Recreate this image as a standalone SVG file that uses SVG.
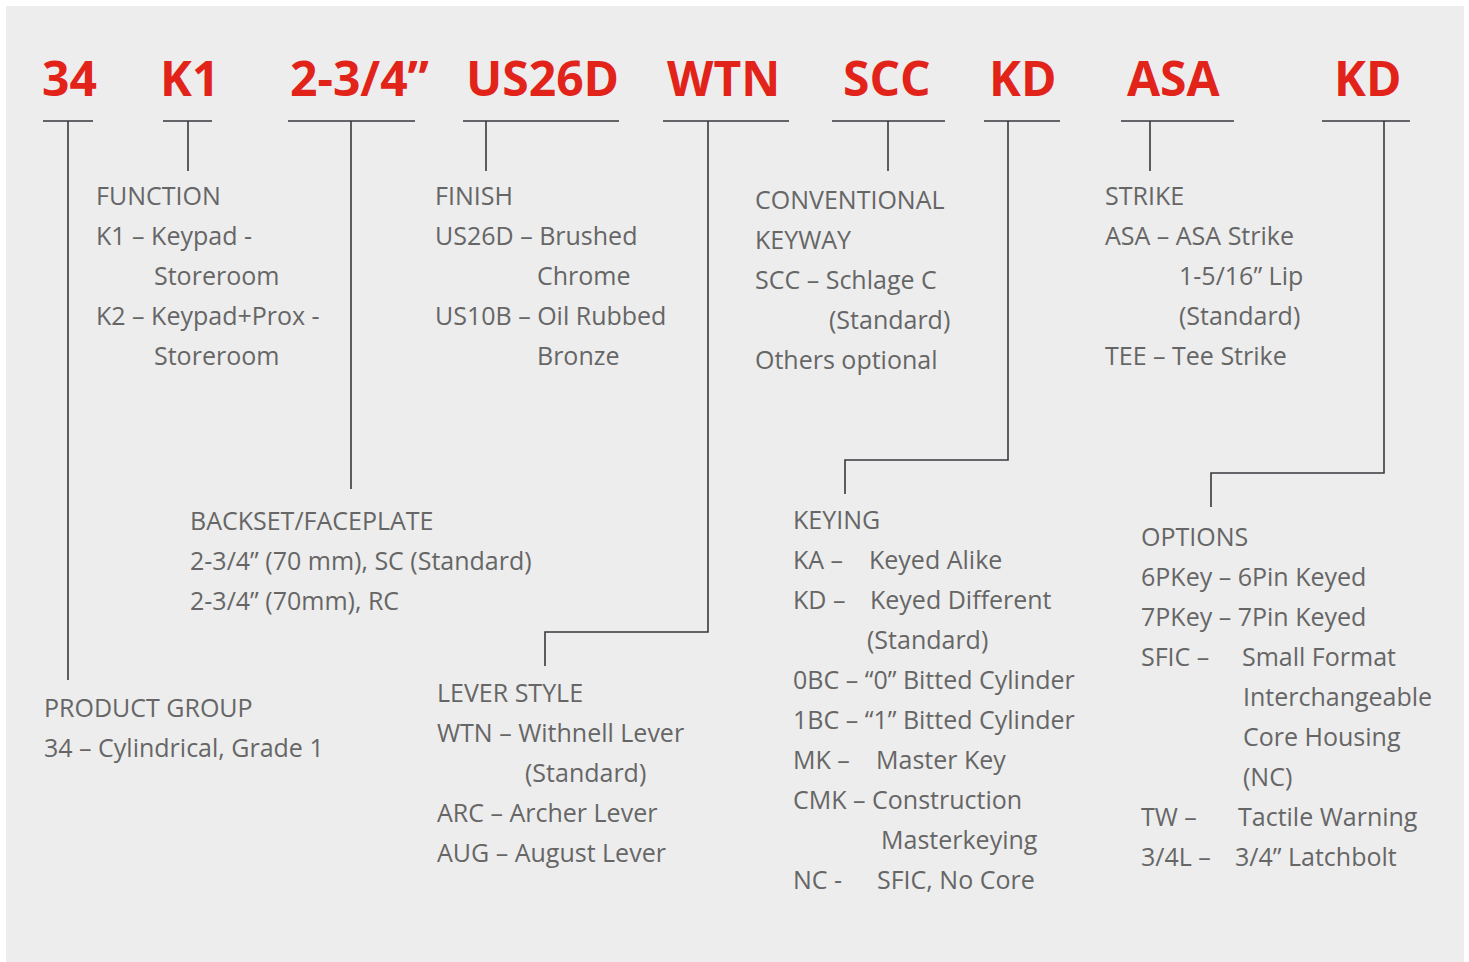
<svg xmlns="http://www.w3.org/2000/svg" width="1469" height="962" viewBox="0 0 1469 962">
<style>
.code{font-family:"Open Sans","Noto Sans",sans-serif;font-weight:700;font-size:48px;fill:#e2231a}
.t{font-family:"Open Sans","Noto Sans",sans-serif;font-size:25px;fill:#666666}
.ln{stroke:#38383e;stroke-width:1.6;fill:none}
</style>
<rect x="0" y="0" width="1469" height="962" fill="#ffffff"/>
<rect x="6" y="6" width="1458" height="956" fill="#ededed"/>
<g id="codes">
<text class="code" x="42" y="96">34</text>
<text class="code" x="160" y="96">K1</text>
<text class="code" x="290" y="96">2-3/4”</text>
<text class="code" x="466" y="96">US26D</text>
<text class="code" x="667" y="96">WTN</text>
<text class="code" x="843" y="96">SCC</text>
<text class="code" x="989" y="96">KD</text>
<text class="code" x="1127" y="96">ASA</text>
<text class="code" x="1334" y="96">KD</text>
</g>
<g id="connectors">
<path class="ln" d="M43 121H93M68 121V680"/>
<path class="ln" d="M163 121H212M188 121V171"/>
<path class="ln" d="M288 121H415M351 121V489"/>
<path class="ln" d="M463 121H619M486 121V171"/>
<path class="ln" d="M663 121H789M708 121V632H545V666"/>
<path class="ln" d="M832 121H945M888 121V171"/>
<path class="ln" d="M984 121H1060M1008 121V460H845V494"/>
<path class="ln" d="M1121 121H1234M1150 121V171"/>
<path class="ln" d="M1322 121H1410M1384 121V473H1211V507"/>
</g>
<g id="function">
<text class="t" x="96" y="205">FUNCTION</text>
<text class="t" x="96" y="245">K1 – Keypad -</text>
<text class="t" x="154" y="285">Storeroom</text>
<text class="t" x="96" y="325">K2 – Keypad+Prox -</text>
<text class="t" x="154" y="365">Storeroom</text>
</g>
<g id="finish">
<text class="t" x="435" y="205">FINISH</text>
<text class="t" x="435" y="245">US26D – Brushed</text>
<text class="t" x="537" y="285">Chrome</text>
<text class="t" x="435" y="325">US10B – Oil Rubbed</text>
<text class="t" x="537" y="365">Bronze</text>
</g>
<g id="keyway">
<text class="t" x="755" y="209">CONVENTIONAL</text>
<text class="t" x="755" y="249">KEYWAY</text>
<text class="t" x="755" y="289">SCC – Schlage C</text>
<text class="t" x="829" y="329">(Standard)</text>
<text class="t" x="755" y="369">Others optional</text>
</g>
<g id="strike">
<text class="t" x="1105" y="205">STRIKE</text>
<text class="t" x="1105" y="245">ASA – ASA Strike</text>
<text class="t" x="1179" y="285">1-5/16” Lip</text>
<text class="t" x="1179" y="325">(Standard)</text>
<text class="t" x="1105" y="365">TEE – Tee Strike</text>
</g>
<g id="backset">
<text class="t" x="190" y="530">BACKSET/FACEPLATE</text>
<text class="t" x="190" y="570">2-3/4” (70 mm), SC (Standard)</text>
<text class="t" x="190" y="610">2-3/4” (70mm), RC</text>
</g>
<g id="product-group">
<text class="t" x="44" y="717">PRODUCT GROUP</text>
<text class="t" x="44" y="757">34 – Cylindrical, Grade 1</text>
</g>
<g id="lever-style">
<text class="t" x="437" y="702">LEVER STYLE</text>
<text class="t" x="437" y="742">WTN – Withnell Lever</text>
<text class="t" x="525" y="782">(Standard)</text>
<text class="t" x="437" y="822">ARC – Archer Lever</text>
<text class="t" x="437" y="862">AUG – August Lever</text>
</g>
<g id="keying">
<text class="t" x="793" y="529">KEYING</text>
<text class="t" x="793" y="569">KA –</text>
<text class="t" x="869" y="569">Keyed Alike</text>
<text class="t" x="793" y="609">KD –</text>
<text class="t" x="870" y="609">Keyed Different</text>
<text class="t" x="867" y="649">(Standard)</text>
<text class="t" x="793" y="689">0BC – “0” Bitted Cylinder</text>
<text class="t" x="793" y="729">1BC – “1” Bitted Cylinder</text>
<text class="t" x="793" y="769">MK –</text>
<text class="t" x="876" y="769">Master Key</text>
<text class="t" x="793" y="809">CMK – Construction</text>
<text class="t" x="881" y="849">Masterkeying</text>
<text class="t" x="793" y="889">NC -</text>
<text class="t" x="877" y="889">SFIC, No Core</text>
</g>
<g id="options">
<text class="t" x="1141" y="546">OPTIONS</text>
<text class="t" x="1141" y="586">6PKey – 6Pin Keyed</text>
<text class="t" x="1141" y="626">7PKey – 7Pin Keyed</text>
<text class="t" x="1141" y="666">SFIC –</text>
<text class="t" x="1242" y="666">Small Format</text>
<text class="t" x="1243" y="706">Interchangeable</text>
<text class="t" x="1243" y="746">Core Housing</text>
<text class="t" x="1243" y="786">(NC)</text>
<text class="t" x="1141" y="826">TW –</text>
<text class="t" x="1238" y="826">Tactile Warning</text>
<text class="t" x="1141" y="866">3/4L –</text>
<text class="t" x="1235" y="866">3/4” Latchbolt</text>
</g>
</svg>
